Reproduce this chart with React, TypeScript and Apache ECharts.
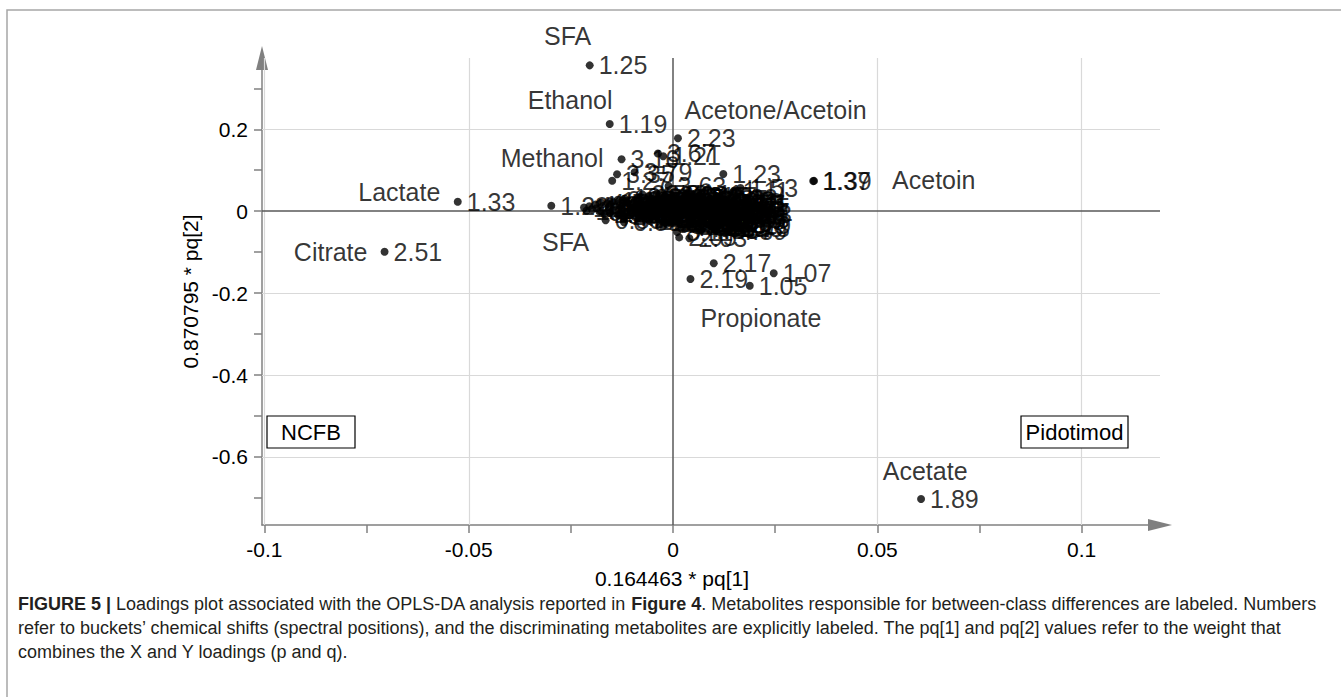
import React, { useEffect, useRef } from "react";
import * as echarts from "echarts";

const FONT = "'Liberation Sans', Arial, Helvetica, sans-serif";

// axis extents (data units)
const X_MIN = -0.1006;
const X_MAX = 0.11917;
const Y_MIN = -0.7661;
const Y_MAX = 0.374;

const xTickLabels = [-0.1, -0.05, 0, 0.05, 0.1];
const xTickMarks = [-0.1, -0.075, -0.05, -0.025, 0, 0.025, 0.05, 0.075, 0.1];
const yTickLabels = [-0.6, -0.4, -0.2, 0, 0.2];
const yTickMarks = [-0.7, -0.6, -0.5, -0.4, -0.3, -0.2, -0.1, 0, 0.1, 0.2, 0.3];
const xGridValues = [-0.1, -0.05, 0.05, 0.1];
const yGridValues = [-0.6, -0.4, -0.2, 0.2];

// [pq1, pq2, bucket label] — separated / readable buckets
const labeledPoints: [number, number, string][] = [
  [-0.0204, 0.356, "1.25"],
  [-0.0155, 0.213, "1.19"],
  [0.0012, 0.178, "2.23"],
  [-0.0126, 0.127, "3.16"],
  [-0.0037, 0.141, "3.67"],
  [-0.0024, 0.134, "1.21"],
  [-0.0137, 0.09, "3.35"],
  [-0.0094, 0.095, "3.79"],
  [-0.0149, 0.0745, "1.27"],
  [-0.0011, 0.0616, "3.63"],
  [0.0123, 0.091, "1.23"],
  [0.0148, 0.049, "1.11"],
  [0.0165, 0.0566, "1.53"],
  [0.014, 0.02, "1.71"],
  [0.0345, 0.074, "1.39"],
  [0.0343, 0.0735, "1.37"],
  [-0.0527, 0.0232, "1.33"],
  [-0.0298, 0.0134, "1.29"],
  [-0.0706, -0.0989, "2.51"],
  [0.00996, -0.1272, "2.17"],
  [0.00426, -0.1655, "2.19"],
  [0.01877, -0.1819, "1.05"],
  [0.02464, -0.1516, "1.07"],
  [0.0015, -0.064, "2.05"],
  [0.004, -0.066, "2.03"],
  [0.0607, -0.7026, "1.89"],
];

// dense central cluster of buckets
const clusterPoints: [number, number, string][] = [
  [-0.0075, 0.041, "3.59"], [-0.004, 0.043, "3.71"], [-0.0005, 0.039, "3.83"],
  [0.003, 0.042, "3.41"], [0.0065, 0.038, "3.27"],
  [-0.0118, 0.031, "1.35"], [-0.0085, 0.034, "3.91"], [-0.005, 0.03, "3.55"],
  [-0.0015, 0.033, "3.75"], [0.002, 0.031, "3.51"], [0.0055, 0.034, "3.43"],
  [0.009, 0.03, "3.87"], [0.0115, 0.033, "3.23"],
  [-0.0148, 0.024, "1.13"], [-0.0118, 0.022, "1.45"], [-0.0088, 0.026, "0.89"],
  [-0.0058, 0.023, "3.95"], [-0.0025, 0.025, "3.65"], [0.0008, 0.022, "3.47"],
  [0.004, 0.026, "3.79"], [0.0072, 0.023, "3.99"], [0.0102, 0.025, "4.07"],
  [0.0128, 0.022, "3.19"],
  [-0.019, 0.016, "1.31"], [-0.016, 0.018, "1.43"], [-0.013, 0.015, "0.97"],
  [-0.0098, 0.017, "4.11"], [-0.0066, 0.014, "3.61"], [-0.0034, 0.018, "3.69"],
  [0.0, 0.015, "3.39"], [0.0032, 0.017, "3.89"], [0.0065, 0.014, "4.03"],
  [0.0096, 0.018, "3.31"], [0.0125, 0.015, "3.15"], [0.0142, 0.012, "1.51"],
  [-0.0218, 0.009, "1.21"], [-0.0188, 0.007, "1.01"], [-0.0158, 0.01, "0.93"],
  [-0.0125, 0.007, "4.15"], [-0.0092, 0.009, "3.57"], [-0.006, 0.006, "3.73"],
  [-0.0028, 0.01, "3.49"], [0.0005, 0.007, "3.85"], [0.0038, 0.009, "4.01"],
  [0.007, 0.006, "3.33"], [0.0102, 0.01, "3.25"], [0.0132, 0.007, "1.61"],
  [-0.0212, 0.001, "1.03"], [-0.018, -0.001, "0.85"], [-0.0148, 0.002, "1.59"],
  [-0.0115, -0.002, "4.19"], [-0.0082, 0.001, "3.53"], [-0.005, -0.001, "3.77"],
  [-0.0018, 0.002, "3.45"], [0.0015, -0.002, "3.81"], [0.0048, 0.001, "3.93"],
  [0.008, -0.001, "3.29"], [0.0112, 0.002, "1.65"], [0.0145, -0.001, "1.57"],
  [-0.0168, -0.007, "1.09"], [-0.0135, -0.009, "0.91"], [-0.0102, -0.006, "4.23"],
  [-0.007, -0.009, "3.97"], [-0.0038, -0.007, "4.05"], [-0.0005, -0.01, "3.37"],
  [0.0028, -0.007, "4.09"], [0.006, -0.009, "3.21"], [0.0092, -0.006, "1.73"],
  [0.0122, -0.01, "1.75"], [0.015, -0.007, "1.63"],
  [-0.0118, -0.015, "4.13"], [-0.0085, -0.017, "4.17"], [-0.0052, -0.014, "3.17"],
  [-0.002, -0.018, "1.81"], [0.0012, -0.015, "1.83"], [0.0045, -0.017, "1.85"],
  [0.0078, -0.014, "1.87"], [0.011, -0.018, "1.67"], [0.0138, -0.016, "1.69"],
  [-0.0058, -0.023, "2.01"], [-0.0025, -0.026, "1.93"], [0.0008, -0.023, "1.95"],
  [0.004, -0.025, "1.97"], [0.0072, -0.022, "1.99"], [0.0105, -0.026, "1.77"],
  [0.0135, -0.023, "1.79"],
  [-0.0015, -0.031, "3.11"], [0.002, -0.033, "3.13"], [0.0055, -0.03, "4.21"],
  [0.0088, -0.034, "4.25"], [0.012, -0.031, "4.27"], [0.0148, -0.033, "4.29"],
  [0.0025, -0.039, "4.31"], [0.006, -0.041, "4.33"], [0.0095, -0.038, "2.11"],
  [0.0128, -0.041, "2.13"],
  [0.0068, -0.047, "4.35"], [0.0105, -0.046, "4.37"], [0.0138, -0.048, "4.39"],
  [-0.006, 0.037, "4.41"], [-0.002, 0.036, "4.43"], [0.0045, 0.037, "2.15"],
  [-0.0135, 0.028, "0.87"], [-0.007, 0.028, "0.95"], [0.0005, 0.028, "4.45"],
  [0.0075, 0.028, "4.47"], [0.011, 0.027, "4.49"],
  [-0.0175, 0.021, "4.51"], [-0.0112, 0.02, "2.21"], [-0.0045, 0.02, "2.25"],
  [0.0018, 0.02, "0.99"], [0.0085, 0.02, "4.53"], [0.0135, 0.018, "4.55"],
  [-0.0205, 0.012, "4.57"], [-0.0142, 0.012, "4.59"], [-0.0078, 0.012, "4.61"],
  [-0.0012, 0.012, "2.27"], [0.0055, 0.012, "2.29"], [0.0115, 0.012, "2.31"],
  [-0.0198, 0.004, "4.63"], [-0.0132, 0.004, "4.65"], [-0.0068, 0.003, "4.67"],
  [-0.0002, 0.004, "4.69"], [0.0062, 0.004, "2.33"], [0.0128, 0.003, "2.35"],
  [-0.0155, -0.004, "2.37"], [-0.0088, -0.004, "4.71"], [-0.0022, -0.005, "4.73"],
  [0.0042, -0.004, "4.75"], [0.0098, -0.004, "2.39"], [0.0152, -0.003, "2.41"],
  [-0.0122, -0.012, "2.43"], [-0.0055, -0.012, "2.45"], [0.0012, -0.012, "2.47"],
  [0.0076, -0.012, "2.49"], [0.0135, -0.012, "2.53"],
  [-0.0068, -0.02, "2.55"], [0.0, -0.02, "2.57"], [0.0058, -0.02, "2.59"],
  [0.0122, -0.02, "2.61"],
  [-0.0005, -0.028, "2.63"], [0.0068, -0.028, "2.65"], [0.0135, -0.028, "2.67"],
  [0.0042, -0.036, "2.69"], [0.011, -0.036, "2.71"], [0.0145, -0.04, "2.73"],
  [0.001, -0.051, "8.11"], [-0.0165, -0.022, "0.83"], [-0.012, -0.027, "6.89"],
];

// metabolite names: [pq1, pq2 of text centre, name]
const metaboliteNames: [number, number, string][] = [
  [-0.0258, 0.4265, "SFA"],
  [-0.0252, 0.271, "Ethanol"],
  [0.0251, 0.247, "Acetone/Acetoin"],
  [-0.0296, 0.131, "Methanol"],
  [-0.067, 0.0457, "Lactate"],
  [-0.0838, -0.0984, "Citrate"],
  [-0.0263, -0.0752, "SFA"],
  [0.0638, 0.0762, "Acetoin"],
  [0.0215, -0.2607, "Propionate"],
  [0.0617, -0.634, "Acetate"],
];

const xAxisTitle = "0.164463 * pq[1]";
const yAxisTitle = "0.870795 * pq[2]";
const classLabels = ["NCFB", "Pidotimod"];

const captionLines = [
  "{b|FIGURE 5 |} Loadings plot associated with the OPLS-DA analysis reported in {b|Figure 4}. Metabolites responsible for between-class differences are labeled. Numbers",
  "refer to buckets\u2019 chemical shifts (spectral positions), and the discriminating metabolites are explicitly labeled. The pq[1] and pq[2] values refer to the weight that",
  "combines the X and Y loadings (p and q).",
];

export default function App() {
  const ref = useRef<HTMLDivElement>(null);
  useEffect(() => {
    if (!ref.current) return;
    const chart = echarts.init(ref.current, null, { renderer: "svg" });
    const axisGray = "#808080";
    const pointData = (arr: [number, number, string][]) =>
      arr.map((p) => ({ value: [p[0], p[1]], name: p[2] }));

    const gridLineStyle = { color: "#d9d9d9", width: 1.2, type: "solid" as const };
    const zeroLineStyle = { color: "#595959", width: 1.5, type: "solid" as const };
    const pointLabel = {
      show: true,
      position: "right",
      distance: 5,
      formatter: "{b}",
      color: "#000",
      fontFamily: FONT,
      fontSize: 25,
    };

    const option: any = {
      animation: false,
      backgroundColor: "#fff",
      grid: { left: 262, top: 58, width: 898, height: 467, containLabel: false },
      xAxis: {
        type: "value",
        min: X_MIN,
        max: X_MAX,
        axisLine: {
          show: true,
          onZero: false,
          symbol: ["none", "triangle"],
          symbolSize: [12, 24],
          lineStyle: { color: axisGray, width: 1.5 },
        },
        axisTick: {
          show: true,
          inside: false,
          length: 8,
          customValues: xTickMarks,
          lineStyle: { color: axisGray, width: 1.5 },
        },
        axisLabel: {
          customValues: xTickLabels,
          color: "#000",
          fontFamily: FONT,
          fontSize: 21,
          margin: 14,
        },
        splitLine: { show: false },
      },
      yAxis: {
        type: "value",
        min: Y_MIN,
        max: Y_MAX,
        name: yAxisTitle,
        nameLocation: "middle",
        nameGap: 41,
        nameTextStyle: { fontFamily: FONT, fontSize: 21, color: "#000" },
        axisLine: {
          show: true,
          onZero: false,
          symbol: ["none", "triangle"],
          symbolSize: [12, 24],
          lineStyle: { color: axisGray, width: 1.5 },
        },
        axisTick: {
          show: true,
          inside: false,
          length: 8,
          customValues: yTickMarks,
          lineStyle: { color: axisGray, width: 1.5 },
        },
        axisLabel: {
          customValues: yTickLabels,
          color: "#000",
          fontFamily: FONT,
          fontSize: 21,
          margin: 14,
        },
        splitLine: { show: false },
      },
      series: [
        {
          type: "scatter",
          name: "cluster",
          data: pointData(clusterPoints),
          symbol: "circle",
          symbolSize: 8,
          itemStyle: { color: "#000" },
          label: pointLabel,
          markLine: {
            silent: true,
            z: 1,
            symbol: ["none", "none"],
            label: { show: false },
            data: [
              ...xGridValues.map((v) => ({ xAxis: v, lineStyle: gridLineStyle })),
              ...yGridValues.map((v) => ({ yAxis: v, lineStyle: gridLineStyle })),
              { xAxis: 0, lineStyle: zeroLineStyle },
              { yAxis: 0, lineStyle: zeroLineStyle },
            ],
          },
        },
        {
          type: "scatter",
          name: "labeled",
          data: pointData(labeledPoints),
          symbol: "circle",
          symbolSize: 8,
          itemStyle: { color: "#000" },
          label: pointLabel,
        },
        {
          type: "scatter",
          name: "names",
          clip: false,
          data: pointData(metaboliteNames),
          symbol: "circle",
          symbolSize: 1,
          itemStyle: { color: "rgba(0,0,0,0)" },
          label: {
            show: true,
            position: "inside",
            formatter: "{b}",
            color: "#000",
            fontFamily: FONT,
            fontSize: 25,
          },
        },
      ],
      graphic: [
        {
          type: "rect",
          z: 0,
          silent: true,
          shape: { x: 7, y: 10, width: 1345, height: 700 },
          style: { fill: "none", stroke: "#a6a6a6", lineWidth: 1.5 },
        },
        {
          type: "text",
          z: 11,
          x: 672,
          y: 578,
          style: {
            text: xAxisTitle,
            textAlign: "center",
            textVerticalAlign: "middle",
            fontFamily: FONT,
            fontSize: 21,
            fill: "#000",
          },
        },
        {
          type: "rect",
          z: 10,
          shape: { x: 267, y: 416, width: 88, height: 32 },
          style: { fill: "#fff", stroke: "#000", lineWidth: 1.2 },
        },
        {
          type: "text",
          z: 11,
          x: 311,
          y: 432,
          style: {
            text: classLabels[0],
            textAlign: "center",
            textVerticalAlign: "middle",
            fontFamily: FONT,
            fontSize: 22,
            fill: "#000",
          },
        },
        {
          type: "rect",
          z: 10,
          shape: { x: 1021, y: 416, width: 107, height: 32 },
          style: { fill: "#fff", stroke: "#000", lineWidth: 1.2 },
        },
        {
          type: "text",
          z: 11,
          x: 1074.5,
          y: 432,
          style: {
            text: classLabels[1],
            textAlign: "center",
            textVerticalAlign: "middle",
            fontFamily: FONT,
            fontSize: 22,
            fill: "#000",
          },
        },
        ...captionLines.map((line, i) => ({
          type: "text",
          z: 11,
          x: 18,
          y: 604 + i * 24,
          style: {
            text: line,
            textVerticalAlign: "middle",
            fontFamily: FONT,
            fontSize: 18,
            fill: "#231f20",
            rich: { b: { fontWeight: "bold", fontFamily: FONT, fontSize: 18, fill: "#231f20" } },
          },
        })),
      ],
    };
    chart.setOption(option);
    return () => chart.dispose();
  }, []);
  return (
    <div
      ref={ref}
      style={{ position: "fixed", left: 0, top: 0, width: 1341, height: 697, background: "#fff" }}
    />
  );
}
